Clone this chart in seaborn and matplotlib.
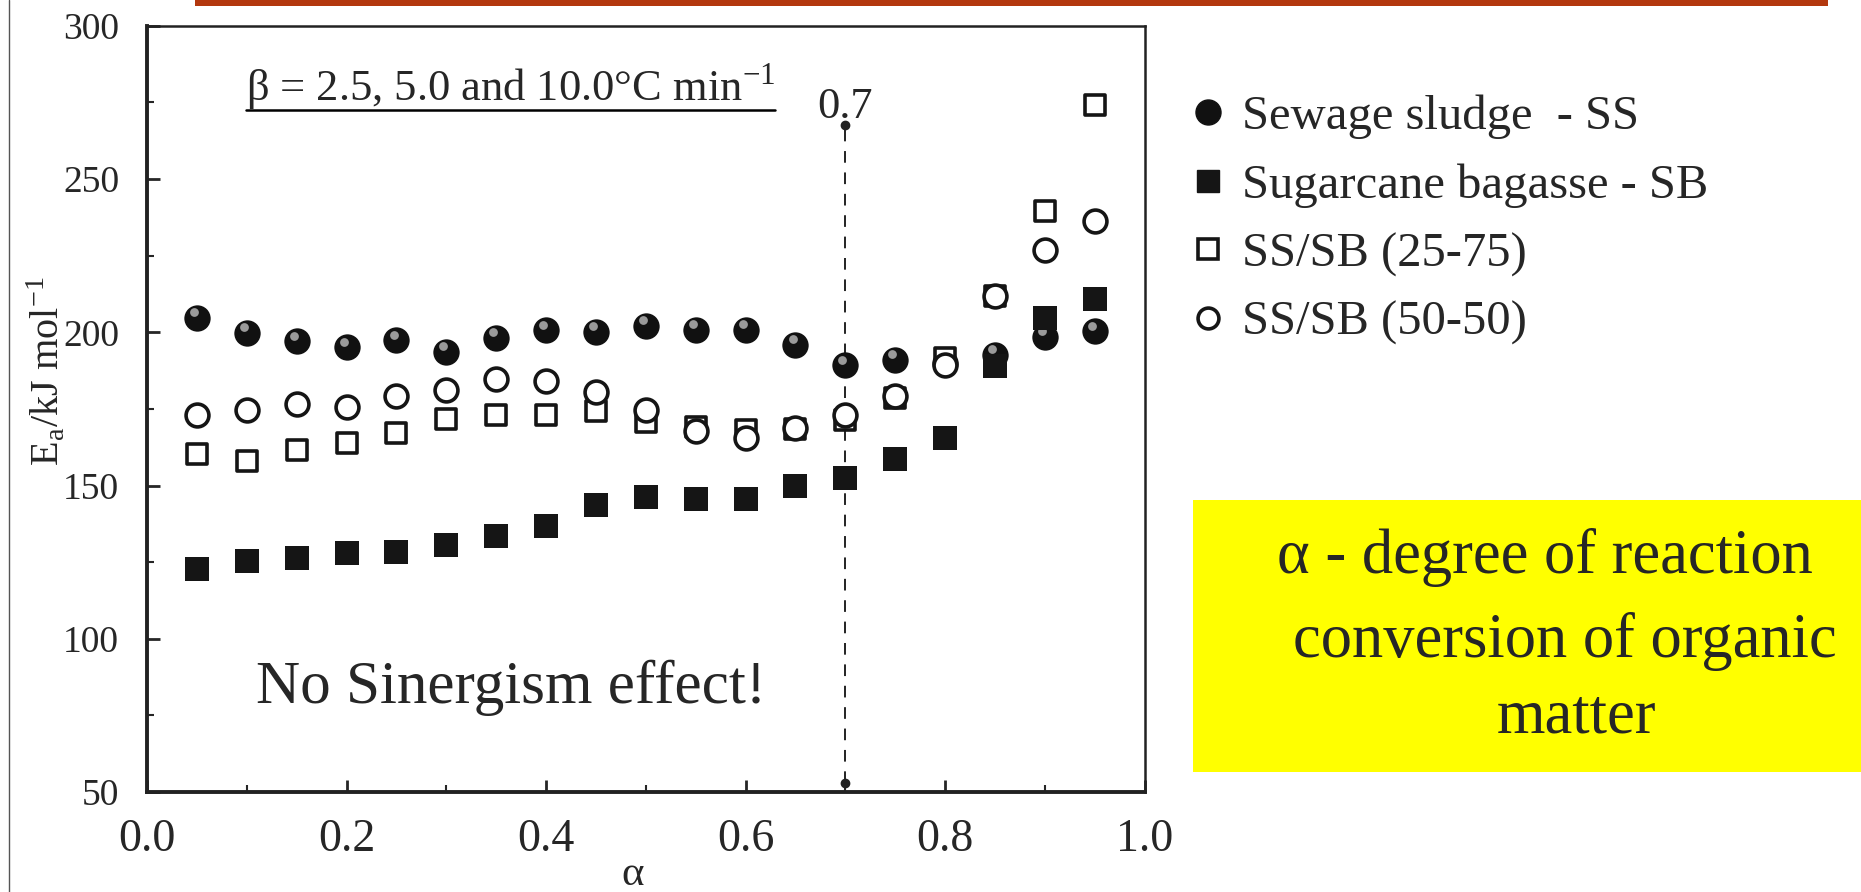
import matplotlib
matplotlib.use("Agg")
import matplotlib.pyplot as plt
import seaborn as sns
import pandas as pd
from matplotlib.lines import Line2D
from matplotlib.patches import Rectangle
from matplotlib.transforms import offset_copy

# degree of reaction
alpha = [0.05, 0.10, 0.15, 0.20, 0.25, 0.30, 0.35, 0.40, 0.45, 0.50,
         0.55, 0.60, 0.65, 0.70, 0.75, 0.80, 0.85, 0.90, 0.95]

# activation energy (kJ/mol)
ea_ss = [204.7, 199.8, 197.1, 195.1, 197.4, 193.6, 198.2, 200.7, 200.2, 202.2,
         200.8, 200.9, 196.0, 189.2, 191.1, 190.0, 192.7, 198.5, 200.3]
ea_sb = [122.7, 125.5, 126.3, 128.1, 128.4, 130.6, 133.6, 136.8, 143.7, 146.4,
         145.6, 145.6, 149.9, 152.4, 158.6, 165.5, 188.9, 204.7, 210.9]
ea_25_75 = [160.3, 157.9, 161.7, 163.9, 167.3, 171.8, 172.9, 173.1, 174.2, 170.9,
            169.1, 168.2, 168.4, 171.5, 178.5, 191.6, 212.0, 239.5, 274.1]
ea_50_50 = [173.1, 174.8, 176.7, 175.6, 179.1, 181.3, 184.8, 184.0, 180.5, 174.8,
            167.7, 165.5, 168.8, 172.9, 179.3, 189.4, 211.8, 226.8, 236.3]

labels = ["Sewage sludge  - SS", "Sugarcane bagasse - SB",
          "SS/SB (25-75)", "SS/SB (50-50)"]
x_ticks = [0.0, 0.2, 0.4, 0.6, 0.8, 1.0]
y_ticks = [50, 100, 150, 200, 250, 300]
alpha_mark = 0.7

df = pd.DataFrame({"alpha": alpha, "SS": ea_ss, "SB": ea_sb,
                   "SS/SB (25-75)": ea_25_75, "SS/SB (50-50)": ea_50_50})

sns.set_style("ticks")
plt.rcParams["font.family"] = ["Liberation Serif", "DejaVu Serif"]
plt.rcParams["mathtext.fontset"] = "stix"

fig = plt.figure(figsize=(18.61, 8.92), dpi=100)
ax = fig.add_axes([0.079, 0.112, 0.536, 0.859])

# dashed marker line at alpha = 0.7
ax.plot([alpha_mark, alpha_mark], [53, 267.6], ls=(0, (6, 5)), color="#222222", lw=1.4, zorder=1)
ax.plot([alpha_mark, alpha_mark], [53, 267.6], ls="none", marker="o", ms=6, color="#222222", zorder=1)

sns.scatterplot(data=df, x="alpha", y="SS", marker="o", s=360, color="#111111",
                edgecolor="#111111", linewidth=0, ax=ax, zorder=2)
ax.scatter(df["alpha"], df["SS"], s=40, color="#9a9a9a", linewidth=0, zorder=3,
           transform=offset_copy(ax.transData, fig=fig, x=-2, y=4, units="points"))
sns.scatterplot(data=df, x="alpha", y="SB", marker="s", s=290, color="#151515",
                edgecolor="#151515", linewidth=0, ax=ax, zorder=4)
sns.scatterplot(data=df, x="alpha", y="SS/SB (25-75)", marker="s", s=220, color="white",
                edgecolor="#151515", linewidth=2.6, ax=ax, zorder=5)
sns.scatterplot(data=df, x="alpha", y="SS/SB (50-50)", marker="o", s=270, color="white",
                edgecolor="#151515", linewidth=2.6, ax=ax, zorder=6)

ax.set_xlim(0, 1.0)
ax.set_ylim(50, 300)
ax.set_xticks(x_ticks)
ax.set_xticklabels([f"{t:.1f}" for t in x_ticks])
ax.set_xticks([0.1, 0.3, 0.5, 0.7, 0.9], minor=True)
ax.set_yticks(y_ticks)
ax.set_yticks([75, 125, 175, 225, 275], minor=True)
ax.tick_params(which="major", direction="in", length=9, width=2)
ax.tick_params(which="minor", direction="in", length=5, width=1.5)
ax.tick_params(axis="x", which="major", labelsize=33, pad=19)
ax.tick_params(axis="y", which="major", labelsize=27, pad=20)
for side in ["top", "right"]:
    ax.spines[side].set_visible(True)
    ax.spines[side].set_linewidth(1.8)
ax.spines["left"].set_linewidth(2.8)
ax.spines["bottom"].set_linewidth(2.8)
for s in ax.spines.values():
    s.set_color("#222222")

ax.set_xlabel("α", fontsize=31, va="center")
ax.xaxis.set_label_coords(0.487, -0.108)
ax.set_ylabel(r"E$_\mathregular{a}$/kJ mol$^\mathregular{-1}$", fontsize=29)
ax.yaxis.set_label_coords(-0.080, 0.55)

beta_txt = ax.text(0.099, 275.8, r"β = 2.5, 5.0 and 10.0°C min$^\mathregular{-1}$",
                   fontsize=32, va="baseline", ha="left")
ax.text(alpha_mark, 273.6, "0.7", fontsize=32, ha="center", va="center")
ax.text(0.365, 84, "No Sinergism effect!", fontsize=44, ha="center", va="center")

# legend
handles = [
    Line2D([], [], ls="none", marker="o", ms=18, color="#111111"),
    Line2D([], [], ls="none", marker="s", ms=16, color="#151515"),
    Line2D([], [], ls="none", marker="s", ms=14, mfc="white", mec="#151515", mew=2.6),
    Line2D([], [], ls="none", marker="o", ms=15, mfc="white", mec="#151515", mew=2.6),
]
fig.legend(handles, labels, loc="upper left", bbox_to_anchor=(0.636, 0.894),
           frameon=False, fontsize=35, handletextpad=0.2, labelspacing=0.5,
           handlelength=1.0, borderaxespad=0, borderpad=0)

# yellow note box
fig.patches.append(Rectangle((0.641, 0.135), 0.359, 0.304, transform=fig.transFigure,
                             facecolor="#FFFF00", edgecolor="none", zorder=0))
fig.text(0.830, 0.375, "α - degree of reaction", fontsize=45, ha="center", va="center")
fig.text(0.841, 0.281, "conversion of organic", fontsize=45, ha="center", va="center")
fig.text(0.847, 0.196, "matter", fontsize=45, ha="center", va="center")

# slide decorations
fig.patches.append(Rectangle((0.105, 0.993), 0.877, 0.007, transform=fig.transFigure,
                             facecolor="#B3380E", edgecolor="none"))
fig.add_artist(Line2D([0.005, 0.005], [0, 1], transform=fig.transFigure, color="#555555", lw=1))

# underline for the heating-rate note
fig.canvas.draw()
bb = beta_txt.get_window_extent().transformed(ax.transData.inverted())
ax.plot([bb.x0, bb.x1], [272.5, 272.5], color="black", lw=1.8)

fig.savefig("out.png", dpi=100)
